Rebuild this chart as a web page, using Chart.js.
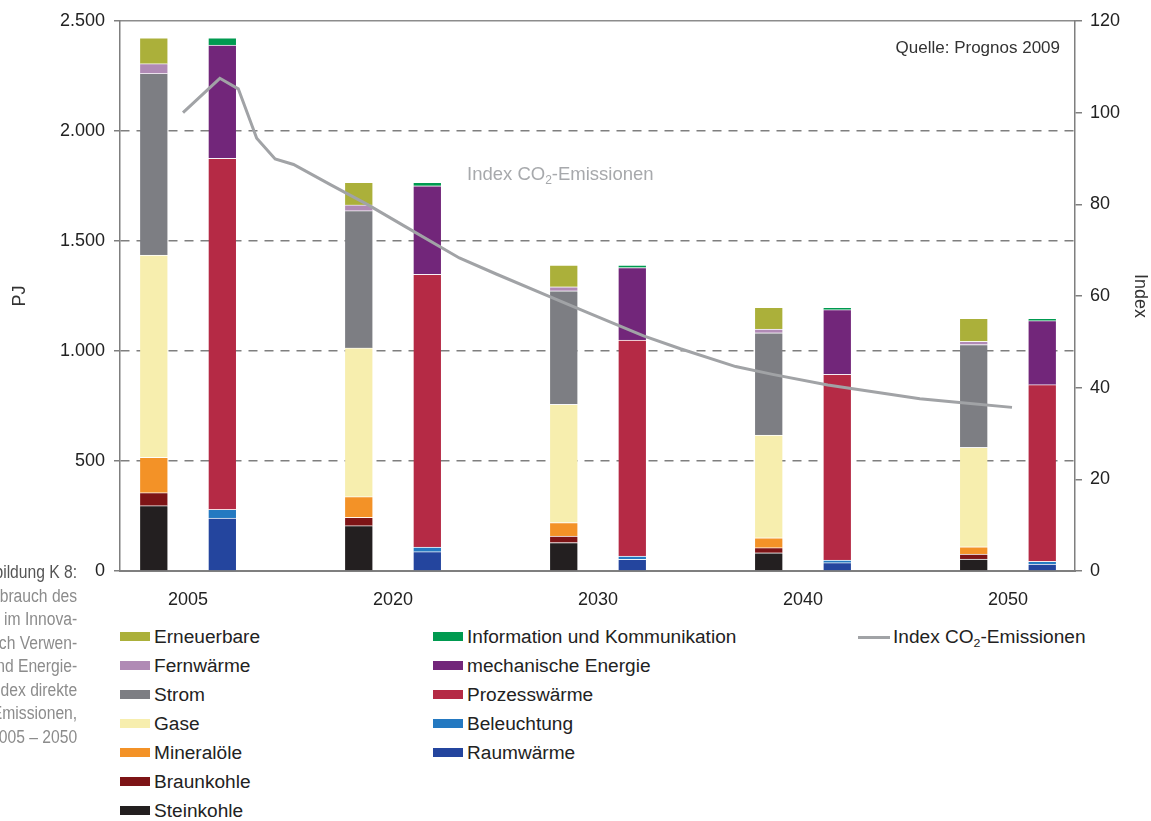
<!DOCTYPE html>
<html lang="de">
<head>
<meta charset="utf-8">
<title>Endenergieverbrauch Industrie – Innovationsszenario</title>
<script src="https://cdn.jsdelivr.net/npm/chart.js@4.4.1/dist/chart.umd.min.js"></script>
<style>
    html, body { margin: 0; padding: 0; background: #fff; }
    body {
        width: 1151px; height: 821px; position: relative; overflow: hidden;
        font-family: "Liberation Sans", Arial, sans-serif; color: #222;
    }
    #chart { position: absolute; left: 0; top: 0; }
    .caption {
        position: absolute; right: 1074px; top: 561px;
        text-align: right; white-space: nowrap;
        font-family: "Liberation Sans Narrow", "Liberation Sans", sans-serif;
        font-size: 18px; line-height: 23.5px; color: #8c8c8c;
        transform: scaleX(0.87); transform-origin: right top;
    }
    .caption .head { color: #555; }
    .source { position: absolute; right: 91px; top: 38px; font-size: 17px; color: #333; }
    .lineLabel { position: absolute; left: 467px; top: 163px; font-size: 18.5px; color: #a7a9ac; }
    sub { font-size: 0.65em; vertical-align: -0.35em; line-height: 0; }
    .leg { position: absolute; font-size: 18px; color: #222; white-space: nowrap; }
    .leg .sw { position: absolute; left: 0; top: 50%; width: 30px; height: 9px; margin-top: -5px; }
    .leg .ln { position: absolute; left: 0; top: 50%; width: 32px; height: 3px; margin-top: -1px; background: #a1a3a6; }
    .leg span.t { display: inline-block; line-height: 22px; transform: scaleX(1.06); transform-origin: left center; }
</style>
</head>
<body>
<canvas id="chart" width="1151" height="620"></canvas>

<div class="caption">
    <div class="head">Abbildung K 8:</div>
    <div>Endenergieverbrauch des</div>
    <div>Industriesektors im Innova-</div>
    <div>tionsszenario nach Verwen-</div>
    <div>dungszwecken und Energie-</div>
    <div>trägern sowie Index direkte</div>
    <div>CO<sub>2</sub>-Emissionen,</div>
    <div>2005 – 2050</div>
</div>
<div class="source">Quelle: Prognos 2009</div>
<div class="lineLabel">Index CO<sub>2</sub>-Emissionen</div>
<div id="legend"></div>

<script>
// ========== DATA ==========
const years = ['2005', '2020', '2030', '2040', '2050'];

// Energieträger (PJ), von unten nach oben
const steinkohle  = [297, 206, 129, 83, 54];
const braunkohle  = [59, 38, 30, 23, 23];
const mineraloele = [161, 94, 61, 45, 33];
const gase        = [919, 676, 538, 467, 452];
const strom       = [826, 624, 516, 465, 467];
const fernwaerme  = [44, 26, 18, 17, 15];
const erneuerbare = [117, 103, 99, 99, 105];

// Verwendungszwecke (PJ), von unten nach oben
const raumwaerme    = [240, 88, 53, 38, 32];
const beleuchtung   = [40, 21, 15, 12, 12];
const prozesswaerme = [1596, 1240, 982, 844, 803];
const mechanisch    = [514, 402, 329, 294, 291];
const iuk           = [33, 16, 12, 11, 11];

// Index CO2-Emissionen (2005 = 100)
const indexYears  = [2005, 2007, 2008, 2009, 2010, 2011, 2013, 2015, 2017, 2020, 2022,
                     2025, 2027, 2030, 2032, 2035, 2037, 2040, 2042, 2045, 2047, 2050];
const indexValues = [100, 107.5, 105.2, 94.4, 89.9, 88.7, 84.3, 80.0, 75.3, 68.3, 64.8,
                     59.7, 56.3, 51.3, 48.5, 44.6, 42.9, 40.6, 39.4, 37.6, 36.8, 35.7];

const pjTicks    = [0, 500, 1000, 1500, 2000, 2500];
const indexTicks = [0, 20, 40, 60, 80, 100, 120];

// ========== COLORS ==========
const AXIS_COLOR = '#7f7f7f';
const TEXT_COLOR = '#222';
const LINE_COLOR = '#a1a3a6';

Chart.defaults.font.family = '"Liberation Sans", Arial, sans-serif';
Chart.defaults.font.size = 18;
Chart.defaults.color = TEXT_COLOR;

// ========== DATASET HELPERS ==========
// bar slots come out half as wide as the year spacing here, so the
// category share is doubled to get ~27px bars ~68px apart
function barSet(label, values, color, stack) {
    return {
        type: 'bar',
        label: label,
        stack: stack,
        data: values.map((v, i) => ({ x: i, y: v })),
        backgroundColor: color,
        borderColor: 'rgba(255, 255, 255, 0.55)',
        borderWidth: { top: 1, left: 0, right: 0, bottom: 0 },
        barThickness: 'flex',
        categoryPercentage: 1.336,
        barPercentage: 0.40,
        xAxisID: 'x',
        yAxisID: 'y',
        order: 1
    };
}

const carrierSets = [
    barSet('Steinkohle', steinkohle, '#231f20', 'carrier'),
    barSet('Braunkohle', braunkohle, '#7d1416', 'carrier'),
    barSet('Mineralöle', mineraloele, '#f39227', 'carrier'),
    barSet('Gase', gase, '#f7eeae', 'carrier'),
    barSet('Strom', strom, '#7d7e83', 'carrier'),
    barSet('Fernwärme', fernwaerme, '#b08ab5', 'carrier'),
    barSet('Erneuerbare', erneuerbare, '#abb03a', 'carrier')
];

const useSets = [
    barSet('Raumwärme', raumwaerme, '#24459e', 'use'),
    barSet('Beleuchtung', beleuchtung, '#2479c1', 'use'),
    barSet('Prozesswärme', prozesswaerme, '#b52a45', 'use'),
    barSet('mechanische Energie', mechanisch, '#72267a', 'use'),
    barSet('Information und Kommunikation', iuk, '#009a50', 'use')
];

const indexSet = {
    type: 'line',
    label: 'Index CO2-Emissionen',
    data: indexYears.map((yr, i) => ({ x: yr, y: indexValues[i] })),
    borderColor: LINE_COLOR,
    borderWidth: 3,
    pointRadius: 0,
    tension: 0,
    fill: false,
    xAxisID: 'xLine',
    yAxisID: 'yIdx',
    order: 0
};

// ========== CHART ==========
const chart = new Chart(document.getElementById('chart').getContext('2d'), {
    type: 'bar',
    data: { datasets: [indexSet, ...carrierSets, ...useSets] },
    options: {
        responsive: false,
        animation: false,
        layout: { padding: { top: 21, left: 0, right: 0, bottom: 0 } },
        plugins: {
            legend: { display: false },
            tooltip: { enabled: false }
        },
        scales: {
            x: {
                type: 'linear',
                position: 'bottom',
                offset: false,
                min: -0.332,
                max: 4.327,
                stacked: true,
                afterBuildTicks: scale => { scale.ticks = years.map((_, i) => ({ value: i })); },
                ticks: {
                    callback: value => years[value],
                    padding: 18,
                    maxRotation: 0,
                    autoSkip: false
                },
                grid: { display: false, drawTicks: false, offset: false },
                border: { display: true, color: AXIS_COLOR, width: 2 },
                afterFit: scale => { scale.height = 49; }
            },
            xLine: {
                type: 'linear',
                position: 'top',
                offset: false,
                min: 2001.58,
                max: 2053.42,
                ticks: { display: false },
                grid: { display: false, drawTicks: false, offset: false },
                border: { display: true, color: '#8c8c8c', width: 1.5 },
                afterFit: scale => { scale.height = 0; }
            },
            y: {
                type: 'linear',
                position: 'left',
                min: 0,
                max: 2500,
                stacked: true,
                afterBuildTicks: scale => { scale.ticks = pjTicks.map(v => ({ value: v })); },
                ticks: {
                    callback: value => value.toLocaleString('de-DE'),
                    padding: 9
                },
                grid: {
                    color: ctx => (ctx.tick && (ctx.tick.value === 0 || ctx.tick.value === 2500)) ? 'rgba(0,0,0,0)' : AXIS_COLOR,
                    lineWidth: 1.5,
                    tickLength: 6,
                    tickColor: AXIS_COLOR,
                    tickWidth: 1.5
                },
                border: { color: AXIS_COLOR, width: 1.5, dash: [9, 7] },
                title: { display: true, text: 'PJ', color: '#333', padding: { top: 9, bottom: 0 } },
                afterFit: scale => { scale.width = 120; }
            },
            yIdx: {
                type: 'linear',
                position: 'right',
                min: 0,
                max: 120,
                afterBuildTicks: scale => { scale.ticks = indexTicks.map(v => ({ value: v })); },
                ticks: { padding: 8 },
                grid: {
                    drawOnChartArea: false,
                    tickLength: 7,
                    color: AXIS_COLOR,
                    lineWidth: 1.5
                },
                border: { color: AXIS_COLOR, width: 1.5 },
                title: { display: true, text: 'Index', color: '#333', padding: { top: 0, bottom: 0 } },
                afterFit: scale => { scale.width = 76; }
            }
        }
    }
});

// ========== LEGEND ==========
function buildLegend() {
    const host = document.getElementById('legend');
    const rowY = 637, rowStep = 29;
    const columns = [
        { x: 120, items: carrierSets.slice().reverse() },
        { x: 433, items: useSets.slice().reverse() }
    ];
    columns.forEach(col => {
        col.items.forEach((ds, row) => {
            const el = document.createElement('div');
            el.className = 'leg';
            el.style.left = col.x + 'px';
            el.style.top = (rowY + row * rowStep - 11) + 'px';
            el.style.paddingLeft = '34px';
            el.innerHTML = `<div class="sw" style="background:${ds.backgroundColor}"></div><span class="t">${ds.label}</span>`;
            host.appendChild(el);
        });
    });
    const ln = document.createElement('div');
    ln.className = 'leg';
    ln.style.left = '858px';
    ln.style.top = (rowY - 11) + 'px';
    ln.style.paddingLeft = '35px';
    ln.innerHTML = '<div class="ln"></div><span class="t">Index CO<sub>2</sub>-Emissionen</span>';
    host.appendChild(ln);
}

buildLegend();
</script>
</body>
</html>
